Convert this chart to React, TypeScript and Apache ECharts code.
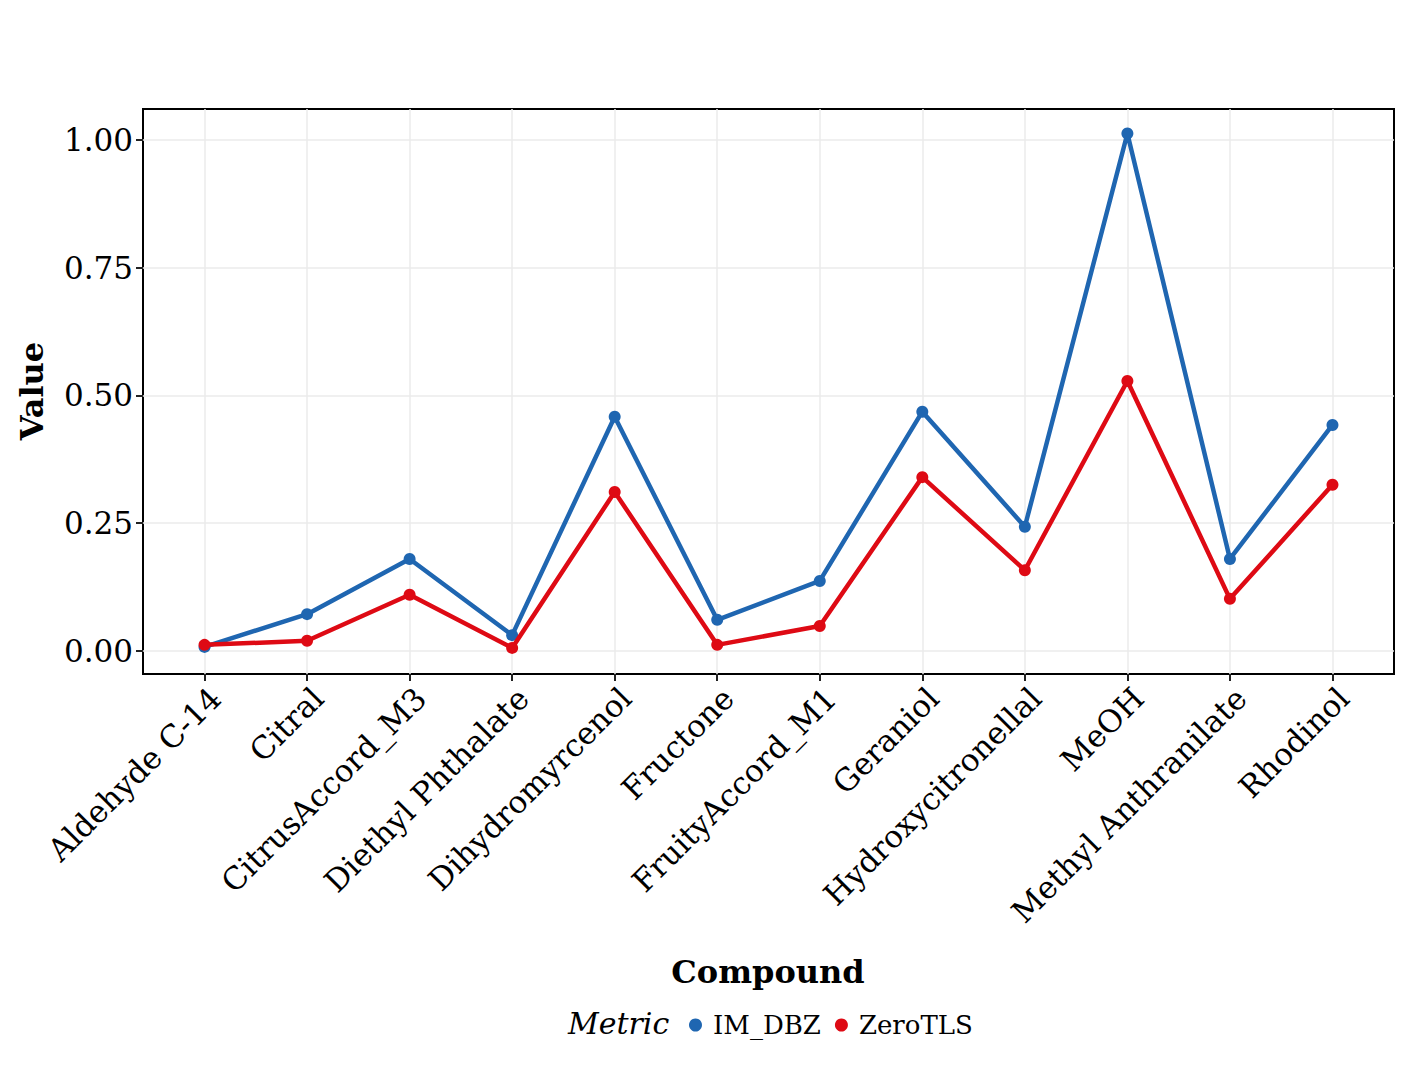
import React, { useEffect, useRef } from "react";
import * as echarts from "echarts";

const categories = [
  "Aldehyde C-14", "Citral", "CitrusAccord_M3", "Diethyl Phthalate", "Dihydromyrcenol",
  "Fructone", "FruityAccord_M1", "Geraniol", "Hydroxycitronellal", "MeOH",
  "Methyl Anthranilate", "Rhodinol",
];
const imDbz = [0.008, 0.072, 0.18, 0.031, 0.458, 0.061, 0.137, 0.468, 0.243, 1.012, 0.18, 0.442];
const zeroTls = [0.012, 0.02, 0.11, 0.006, 0.311, 0.012, 0.049, 0.34, 0.158, 0.528, 0.102, 0.325];
const yTicks = [0, 0.25, 0.5, 0.75, 1.0];

const FONT = "DejaVu Serif";
const BLUE = "#1F66B1";
const RED = "#DE0A14";

export default function App() {
  const ref = useRef<HTMLDivElement>(null);
  useEffect(() => {
    const chart = echarts.init(ref.current!, null, { renderer: "svg" });
    const xIdx = categories.map((_, i) => i);
    chart.setOption({
      animation: false,
      backgroundColor: "#ffffff",
      grid: { left: 143, right: 26, top: 109, bottom: 391, show: true, borderColor: "#000", borderWidth: 2, backgroundColor: "transparent" },
      xAxis: {
        type: "value",
        min: -0.6,
        max: 11.6,
        axisLine: { show: false, onZero: false },
        axisTick: { show: true, customValues: xIdx, length: 7, lineStyle: { color: "#222", width: 2 } },
        splitLine: { show: true, lineStyle: { color: "#EBEBEB", width: 1.5 } },
        axisLabel: {
          customValues: xIdx,
          rotate: 45,
          margin: 8,
          verticalAlign: "top",
          formatter: (v: number) => categories[Math.round(v)] ?? "",
          fontFamily: FONT,
          fontSize: 31,
          color: "#000",
        },
      },
      yAxis: {
        type: "value",
        min: -0.045,
        max: 1.06,
        axisLine: { show: false, onZero: false },
        axisTick: { show: true, customValues: yTicks, length: 7, lineStyle: { color: "#222", width: 2 } },
        splitLine: { show: true, lineStyle: { color: "#EBEBEB", width: 1.5 } },
        axisLabel: {
          customValues: yTicks,
          formatter: (v: number) => v.toFixed(2),
          fontFamily: FONT,
          fontSize: 31,
          color: "#000",
          margin: 10,
        },
      },
      legend: {
        left: 684,
        top: 1007,
        icon: "circle",
        itemWidth: 13,
        itemHeight: 13,
        itemGap: 14,
        textStyle: { fontFamily: FONT, fontSize: 26, color: "#000", padding: [0, 0, 0, 6] },
        data: ["IM_DBZ", "ZeroTLS"],
      },
      graphic: [
        { type: "text", x: 768, y: 956, style: { text: "Compound", font: `bold 32px '${FONT}'`, fill: "#000", align: "center", verticalAlign: "top" } },
        { type: "text", x: 16, y: 391, rotation: Math.PI / 2, style: { text: "Value", font: `bold 32px '${FONT}'`, fill: "#000", align: "center", verticalAlign: "top" } },
        { type: "text", x: 568, y: 1008, style: { text: "Metric", font: `italic 30px '${FONT}'`, fill: "#000" } },
      ],
      series: [
        {
          name: "IM_DBZ",
          type: "line",
          data: imDbz.map((v, i) => [i, v]),
          symbol: "circle",
          symbolSize: 12,
          lineStyle: { color: BLUE, width: 4.5 },
          itemStyle: { color: BLUE },
          z: 2,
        },
        {
          name: "ZeroTLS",
          type: "line",
          data: zeroTls.map((v, i) => [i, v]),
          symbol: "circle",
          symbolSize: 12,
          lineStyle: { color: RED, width: 4.5 },
          itemStyle: { color: RED },
          z: 3,
        },
      ],
    });
    return () => chart.dispose();
  }, []);
  return <div ref={ref} style={{ width: 1420, height: 1065, margin: -8 }} />;
}
